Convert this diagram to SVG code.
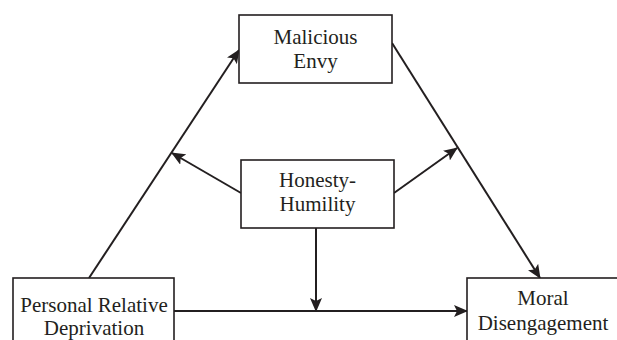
<svg xmlns="http://www.w3.org/2000/svg" width="617" height="340" viewBox="0 0 617 340">
<style>
.box{fill:#fff;stroke:#231f20;stroke-width:1.6}
.t{font-family:"Liberation Serif","Times New Roman",serif;font-size:21px;fill:#231f20;text-anchor:middle}
.c{fill:none;stroke:#231f20;stroke-width:2}
</style>
<defs>
<marker id="ah" markerUnits="userSpaceOnUse" markerWidth="14" markerHeight="12" refX="13" refY="6" orient="auto">
<path d="M0,0 L14,6 L0,12 L3,6 Z" fill="#231f20"/>
</marker>
</defs>
<rect width="617" height="340" fill="#fff"/>
<g id="connectors">
<line class="c" x1="89" y1="278" x2="239" y2="50" marker-end="url(#ah)"/>
<line class="c" x1="392" y1="43" x2="540" y2="278" marker-end="url(#ah)"/>
<line class="c" x1="174" y1="311" x2="467" y2="311" marker-end="url(#ah)"/>
<line class="c" x1="241" y1="193" x2="172" y2="153" marker-end="url(#ah)"/>
<line class="c" x1="394" y1="193" x2="457" y2="148" marker-end="url(#ah)"/>
<line class="c" x1="316" y1="228" x2="316" y2="311" marker-end="url(#ah)"/>
</g>
<g id="malicious-envy">
<rect class="box" x="239" y="15" width="153" height="68"/>
<text class="t" x="315.5" y="44">Malicious</text>
<text class="t" x="315.5" y="68">Envy</text>
</g>
<g id="honesty-humility">
<rect class="box" x="241" y="160" width="153" height="68"/>
<text class="t" x="317.5" y="187">Honesty-</text>
<text class="t" x="317.5" y="211">Humility</text>
</g>
<g id="personal-relative-deprivation">
<rect class="box" x="13" y="278" width="161" height="70"/>
<text class="t" x="94" y="312">Personal Relative</text>
<text class="t" x="94" y="335">Deprivation</text>
</g>
<g id="moral-disengagement">
<rect class="box" x="467" y="278" width="160" height="70"/>
<text class="t" x="543" y="305">Moral</text>
<text class="t" x="543" y="330">Disengagement</text>
</g>
</svg>
